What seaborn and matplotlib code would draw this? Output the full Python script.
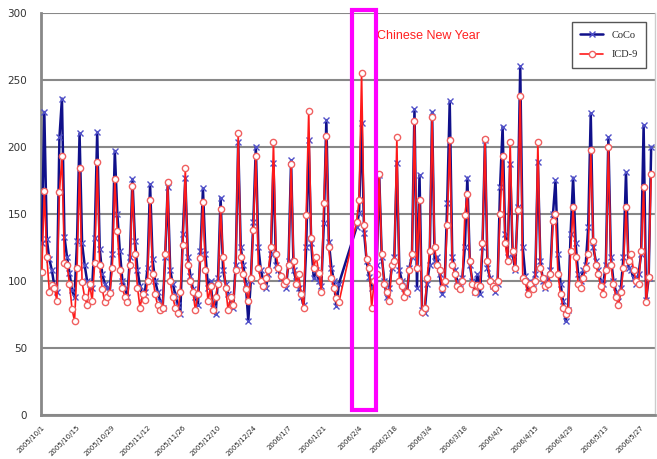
import numpy as np
import pandas as pd
import matplotlib
matplotlib.use("Agg")
import matplotlib.pyplot as plt
import matplotlib.dates as mdates
from matplotlib.patches import Rectangle
import seaborn as sns

# daily counts 2005/10/1 - 2006/5/31, one row per week (Sat..Fri), None = no data
coco = [
    128, 226, 131, 116, 108, 96, 92,
    207, 236, 133, 118, 106, 93, 88,
    130, 210, 128, 112, 100, 98, 95,
    132, 211, 124, 105, 98, 95, 92,
    120, 197, 150, 122, 100, 95, 88,
    118, 176, 130, 108, 96, 88, 92,
    110, 172, 116, 100, 92, 85, 80,
    118, 170, 108, 98, 90, 82, 75,
    135, 177, 118, 104, 94, 88, 82,
    122, 169, 120, 95, 100, 80, 75,
    102, 162, 108, 98, 90, 86, 80,
    112, 204, 125, 112, 98, 70, 100,
    144, 200, 125, 108, 100, 95, 105,
    120, 188, 112, 108, 102, 100, 95,
    115, 190, 108, 100, 95, 88, 82,
    125, 205, 128, 102, 108, 100, 96,
    143, 220, 129, 110, 100, 81, 98,
    None, None, None, None, None, None, 140,
    151, 218, 136, 115, 103, 95, 98,
    112, 179, 118, 100, 88, 95, 110,
    118, 188, 108, 100, 95, 90, 110,
    118, 228, 95, 179, 78, 76, 98,
    112, 226, 115, 118, 105, 90, 98,
    158, 234, 118, 108, 100, 95, 102,
    125, 177, 112, 100, 92, 105, 90,
    125, 205, 110, 102, 96, 92, 98,
    170, 215, 135, 118, 187, 120, 108,
    155, 260, 125, 104, 92, 100, 95,
    105, 189, 115, 100, 95, 102, 108,
    150, 175, 120, 98, 85, 70, 78,
    135, 177, 128, 105, 100, 108, 112,
    140, 225, 125, 115, 108, 100, 98,
    112, 207, 118, 100, 92, 85, 95,
    118, 181, 110, 108, 102, 98, 105,
    120, 216, 86, 102, 200,
]
icd9 = [
    107, 167, 118, 92, 97, 95, 85,
    166, 193, 113, 112, 98, 79, 70,
    110, 184, 99, 88, 82, 98, 85,
    113, 189, 112, 94, 84, 88, 91,
    110, 176, 137, 108, 95, 88, 84,
    112, 171, 120, 95, 80, 90, 86,
    100, 160, 105, 90, 82, 78, 80,
    120, 174, 100, 88, 80, 76, 92,
    127, 184, 112, 100, 92, 78, 90,
    117, 159, 108, 85, 96, 78, 88,
    98, 154, 118, 95, 78, 88, 82,
    108, 210, 118, 105, 94, 85, 102,
    138, 193, 110, 100, 96, 102, 108,
    125, 204, 120, 110, 104, 98, 100,
    112, 187, 115, 98, 105, 90, 80,
    149, 227, 132, 110, 118, 106, 92,
    158, 208, 125, 102, 95, 87, 84,
    None, None, None, None, None, None, 144,
    160, 255, 142, 116, 110, 80, 100,
    105, 180, 120, 98, 92, 85, 112,
    115, 207, 100, 96, 88, 92, 108,
    120, 219, 110, 160, 77, 80, 102,
    122, 222, 125, 112, 108, 95, 100,
    142, 205, 112, 105, 96, 94, 100,
    149, 165, 115, 98, 92, 97, 96,
    128, 206, 115, 100, 96, 95, 100,
    150, 193, 128, 115, 204, 122, 110,
    153, 238, 102, 100, 90, 98, 94,
    100, 204, 110, 102, 96, 98, 105,
    145, 150, 105, 90, 80, 75, 78,
    122, 155, 118, 98, 95, 102, 110,
    120, 198, 130, 112, 105, 96, 90,
    108, 200, 112, 98, 88, 82, 92,
    110, 155, 115, 120, 108, 100, 98,
    122, 170, 84, 103, 180,
]
dates = pd.date_range("2005-10-01", "2006-05-31", freq="D")
tick_dates = pd.date_range("2005-10-01", "2006-05-31", freq="14D")
cny_start = pd.Timestamp("2006-02-01")
cny_end = pd.Timestamp("2006-02-10 14:00")

df = pd.DataFrame({"date": dates, "CoCo": coco, "ICD-9": icd9}).dropna()

sns.set_style("white")
plt.rcParams["font.family"] = ["Liberation Sans Narrow", "DejaVu Sans"]

fig = plt.figure(figsize=(6.57, 4.59), dpi=100)
ax = fig.add_axes([0.0625, 0.096, 0.934, 0.876])

sns.lineplot(data=df, x="date", y="CoCo", ax=ax, color="#10108a", lw=1.8,
             marker="x", markersize=4, markeredgecolor="#5050c8",
             markeredgewidth=1, label="CoCo", zorder=3)
sns.lineplot(data=df, x="date", y="ICD-9", ax=ax, color="#ff1a1a", lw=1.2,
             marker="o", markersize=4.5, markerfacecolor="white",
             markeredgecolor="#f06060", markeredgewidth=1, label="ICD-9",
             zorder=4)

ax.set_ylim(0, 300)
ax.set_yticks(range(0, 301, 50))
ax.set_xlim(dates[0] - pd.Timedelta(hours=7), dates[0] + pd.Timedelta(days=243.4))
ax.yaxis.grid(True, color="#888888", lw=1.5)
ax.set_axisbelow(True)
for s in ["left", "bottom"]:
    ax.spines[s].set_color("#888888")
    ax.spines[s].set_linewidth(2)
ax.spines["top"].set_visible(False)
ax.spines["right"].set_color("#cccccc")
ax.spines["right"].set_linewidth(1)

ax.set_xticks(tick_dates)
ax.set_xticklabels([f"{d.year}/{d.month}/{d.day}" for d in tick_dates],
                   rotation=45, ha="right", rotation_mode="anchor", fontsize=5)
ax.tick_params(axis="x", length=2, color="#888888", pad=5)
ax.tick_params(axis="y", length=0, labelsize=7.5, labelcolor="#333333", pad=10)
ax.set_xlabel("")
ax.set_ylabel("")

rect = Rectangle((mdates.date2num(cny_start), 0.012),
                 mdates.date2num(cny_end) - mdates.date2num(cny_start), 0.995,
                 transform=ax.get_xaxis_transform(), fill=False,
                 edgecolor="#ff00ff", lw=3, clip_on=False, zorder=6)
ax.add_patch(rect)
ax.text(mdates.date2num(cny_end) + 0.6, 0.943, "Chinese New Year",
        transform=ax.get_xaxis_transform(), color="#ff2020", fontsize=9,
        family=["Liberation Sans", "DejaVu Sans"], va="center", ha="left")

leg = ax.legend(loc="upper right", bbox_to_anchor=(0.995, 0.99), frameon=True,
                fancybox=False, edgecolor="#555555", framealpha=1,
                prop={"family": ["Liberation Serif", "DejaVu Serif"], "size": 7.5},
                handlelength=2.2, borderpad=0.8, labelspacing=1.0)
leg.get_frame().set_linewidth(1)

fig.savefig("out.png", dpi=100)
